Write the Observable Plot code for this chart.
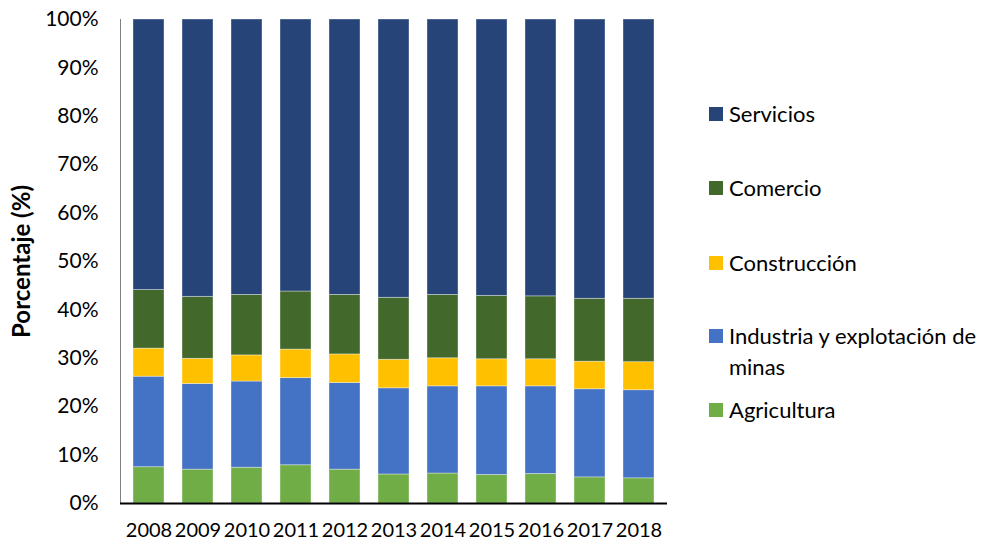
<!DOCTYPE html>
<html>
<head>
<meta charset="utf-8">
<script src="https://cdn.jsdelivr.net/npm/d3@7"></script>
<script src="https://cdn.jsdelivr.net/npm/@observablehq/plot@0.6"></script>
<style>
  html, body { margin: 0; padding: 0; background: #fff; }
  #wrap { position: relative; width: 982px; height: 546px; font-family: Lato, "Open Sans", sans-serif; }
  #legend { position: absolute; left: 709px; top: 0; width: 273px; height: 546px; }
  .item { position: absolute; left: 0; display: flex; align-items: flex-start; font-size: 22px; color: #000; line-height: 31px; }
  .sw { width: 14px; height: 14px; margin-right: 6px; margin-top: 9px; flex: none; }
</style>
</head>
<body>
<div id="wrap"><div id="chart"></div><div id="legend"></div></div>
<script>
const years = ["2008","2009","2010","2011","2012","2013","2014","2015","2016","2017","2018"];
const sectors = ["Agricultura","Industria y explotación de minas","Construcción","Comercio","Servicios"];
const colors = ["#70AD47","#4472C4","#FFC000","#43682B","#264478"];
const agricultura = [7.5, 7.0, 7.4, 7.9, 7.0, 6.0, 6.2, 5.9, 6.1, 5.4, 5.2];
const industria   = [18.7, 17.7, 17.8, 18.0, 17.9, 17.8, 18.0, 18.3, 18.1, 18.2, 18.2];
const construccion= [5.8, 5.2, 5.4, 5.9, 5.9, 5.9, 5.8, 5.6, 5.6, 5.7, 5.8];
const comercio    = [12.1, 12.8, 12.5, 12.0, 12.3, 12.8, 13.1, 13.1, 13.0, 13.0, 13.1];
const servicios   = [55.9, 57.3, 56.9, 56.2, 56.9, 57.5, 56.9, 57.1, 57.2, 57.7, 57.7];
const yTicks = [0,10,20,30,40,50,60,70,80,90,100];

const series = [agricultura, industria, construccion, comercio, servicios];
const rows = [];
sectors.forEach((s, i) => years.forEach((y, j) => rows.push({year: y, sector: s, value: series[i][j]})));

const chart = Plot.plot({
  width: 982,
  height: 546,
  marginLeft: 120,
  marginRight: 315,
  marginTop: 19,
  marginBottom: 43,
  style: {fontFamily: "Lato, 'Open Sans', sans-serif", fontSize: "21px", color: "#000", background: "#fff"},
  x: {domain: years, paddingInner: 0.375, paddingOuter: 0.1875},
  y: {domain: [0, 100]},
  color: {domain: sectors, range: colors},
  marks: [
    Plot.barY(rows, {x: "year", y: "value", fill: "sector", z: "sector", order: sectors,
      stroke: "#fff", strokeOpacity: 0.45, strokeWidth: 0.8}),
    Plot.axisY({ticks: yTicks, tickFormat: d => d + "%", tickSize: 0, tickPadding: 22,
      label: "Porcentaje (%)", labelAnchor: "center", labelArrow: "none", labelOffset: 108}),
    Plot.axisX({tickSize: 0, tickPadding: 19, label: null, fontSize: 20}),
    Plot.frame({anchor: "left", stroke: "#808080", strokeWidth: 1}),
    Plot.ruleY([0], {stroke: "#000", strokeWidth: 2})
  ]
});
document.getElementById("chart").appendChild(chart);
d3.select(chart).selectAll('[aria-label="y-axis label"] text').style("font-weight", "bold").style("font-size", "24px");

// legend (top to bottom: reverse of stack order)
const legendPos = [98, 172, 247, 320, 394];
const legend = d3.select("#legend");
[...sectors].reverse().forEach((s, i) => {
  const k = sectors.length - 1 - i;
  const it = legend.append("div").attr("class", "item").style("top", legendPos[i] + "px");
  it.append("div").attr("class", "sw").style("background", colors[k]);
  it.append("div").style("width", "253px").text(s);
});
</script>
</body>
</html>
